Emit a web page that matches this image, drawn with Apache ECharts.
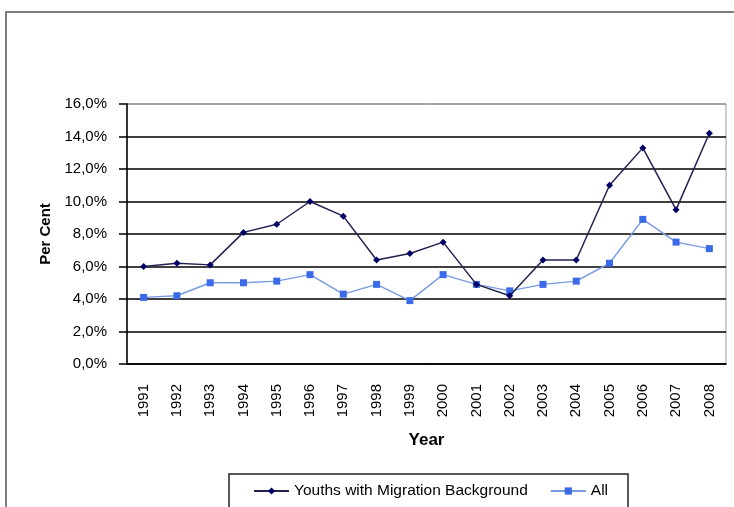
<!DOCTYPE html>
<html>
<head>
<meta charset="utf-8">
<script src="https://cdn.jsdelivr.net/npm/echarts@6/dist/echarts.min.js"></script>
<style>
  html, body { margin: 0; padding: 0; background: #fff; }
  #chart { width: 734px; height: 507px; }
</style>
</head>
<body>
<div id="chart"></div>
<script>
// Years on the category axis
const years = ['1991','1992','1993','1994','1995','1996','1997','1998','1999',
               '2000','2001','2002','2003','2004','2005','2006','2007','2008'];

// Unemployment share, per cent
const youthsMigration = [6.0, 6.2, 6.1, 8.1, 8.6, 10.0, 9.1, 6.4, 6.8,
                         7.5, 4.9, 4.2, 6.4, 6.4, 11.0, 13.3, 9.5, 14.2];
const allYouths = [4.1, 4.2, 5.0, 5.0, 5.1, 5.5, 4.3, 4.9, 3.9,
                   5.5, 4.9, 4.5, 4.9, 5.1, 6.2, 8.9, 7.5, 7.1];

const seriesNames = ['Youths with Migration Background', 'All'];

const fmt = v => v.toFixed(1).replace('.', ',') + '%';
const FONT = 'Liberation Sans, Arial, sans-serif';

const chart = echarts.init(document.getElementById('chart'));
chart.setOption({
  animation: false,
  textStyle: { fontFamily: FONT, color: '#000' },
  graphic: [{
    type: 'rect',
    shape: { x: 6, y: 12, width: 760, height: 520 },
    style: { fill: 'none', stroke: '#555', lineWidth: 1.5 },
    silent: true, z: -10
  }],
  grid: {
    left: 127, right: 8, top: 104, bottom: 143,
    show: true, borderColor: '#999', borderWidth: 1, backgroundColor: 'transparent'
  },
  legend: {
    left: 229, top: 474,
    itemWidth: 35, itemHeight: 9, itemGap: 22,
    padding: [9, 20, 30, 24],
    borderColor: '#222', borderWidth: 1.5,
    textStyle: { fontSize: 15.5, color: '#000', fontFamily: FONT },
    data: seriesNames
  },
  xAxis: {
    type: 'category',
    data: years,
    boundaryGap: true,
    name: 'Year',
    nameLocation: 'middle',
    nameGap: 68,
    nameTextStyle: { fontSize: 17, fontWeight: 'bold', color: '#000', verticalAlign: 'top' },
    axisLine: { lineStyle: { color: '#000', width: 1.5 } },
    axisTick: { alignWithLabel: false, length: 6, lineStyle: { color: '#000', width: 1.5 } },
    axisLabel: { rotate: 90, margin: 20, fontSize: 15, color: '#000', interval: 0 },
    splitLine: { show: false }
  },
  yAxis: {
    type: 'value',
    min: 0, max: 16, interval: 2,
    name: 'Per Cent',
    nameLocation: 'middle',
    nameGap: 74,
    nameRotate: 90,
    nameTextStyle: { fontSize: 15, fontWeight: 'bold', color: '#000' },
    axisLine: { show: true, lineStyle: { color: '#000', width: 1.5 } },
    axisTick: { show: true, length: 8, lineStyle: { color: '#000', width: 1.5 } },
    axisLabel: { formatter: fmt, fontSize: 15, color: '#000', margin: 20 },
    splitLine: {
      show: true,
      lineStyle: {
        color: ['#000', '#000', '#000', '#000', '#000', '#000', '#000', '#000', '#999'],
        width: 1.5
      }
    }
  },
  series: [
    {
      name: seriesNames[0],
      type: 'line',
      data: youthsMigration,
      symbol: 'diamond',
      symbolSize: 7,
      lineStyle: { color: '#22224f', width: 1.5 },
      itemStyle: { color: '#000066' },
      z: 3
    },
    {
      name: seriesNames[1],
      type: 'line',
      data: allYouths,
      symbol: 'rect',
      symbolSize: 7,
      lineStyle: { color: '#7a9be0', width: 1.5 },
      itemStyle: { color: '#3a6ae8' },
      z: 2
    }
  ]
});
</script>
</body>
</html>
